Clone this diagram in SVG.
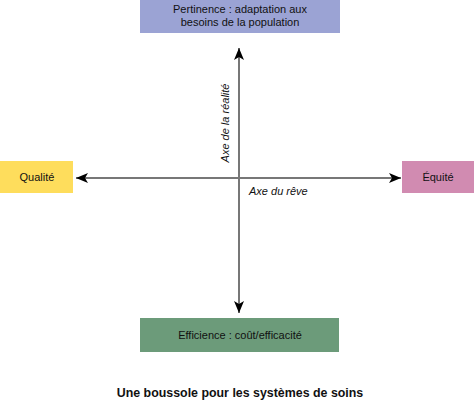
<svg xmlns="http://www.w3.org/2000/svg" width="475" height="404" viewBox="0 0 475 404">
<style>
text{font-family:"Liberation Sans",Arial,sans-serif;font-size:11px;fill:#111}
.c{text-anchor:middle}
.i{font-style:italic}
.ax{stroke:#777;stroke-width:2;fill:none}
</style>
<defs>
<marker id="ah" viewBox="0 0 12 10" refX="12" refY="5" markerWidth="12" markerHeight="10" markerUnits="userSpaceOnUse" orient="auto">
<path d="M0,0 L12,5 L0,10 L3,5 z" fill="#000"/>
</marker>
</defs>
<rect width="475" height="404" fill="#fff"/>
<g id="connectors">
<line class="ax" x1="239" y1="178" x2="239" y2="48" marker-end="url(#ah)"/>
<line class="ax" x1="239" y1="178" x2="239" y2="313" marker-end="url(#ah)"/>
<line class="ax" x1="239" y1="178" x2="76" y2="178" marker-end="url(#ah)"/>
<line class="ax" x1="239" y1="178" x2="401" y2="178" marker-end="url(#ah)"/>
<text class="c i" transform="translate(229,123) rotate(-90)">Axe de la réalité</text>
<text class="i" x="249" y="195">Axe du rêve</text>
</g>
<g id="pertinence">
<rect x="140" y="0" width="200" height="33" fill="#9ba3d4"/>
<text class="c" x="240" y="13">Pertinence : adaptation aux</text>
<text class="c" x="240" y="26">besoins de la population</text>
</g>
<g id="qualite">
<rect x="0" y="161" width="73" height="32" fill="#fedd5c"/>
<text class="c" x="37" y="181">Qualité</text>
</g>
<g id="equite">
<rect x="402" y="161" width="72" height="32" fill="#d18bb1"/>
<text class="c" x="438" y="181">Équité</text>
</g>
<g id="efficience">
<rect x="140" y="318" width="199" height="34" fill="#6c9b7a"/>
<text class="c" x="240" y="339">Efficience : coût/efficacité</text>
</g>
<text class="c" x="240" y="397" style="font-weight:bold;font-size:12.4px">Une boussole pour les systèmes de soins</text>
</svg>
